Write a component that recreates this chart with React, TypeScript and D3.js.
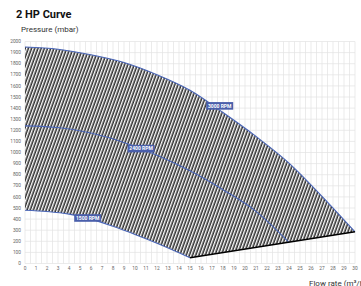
import React from "react";
import * as d3 from "d3";

// readings from the reference chart (flow m3/h, pressure mbar)
const flow3000 = [0, 3, 6, 9, 12, 15, 18, 21, 24, 27, 30];
const press3000 = [1950, 1930, 1880, 1810, 1700, 1560, 1360, 1145, 905, 605, 285];

const flow2400 = [0, 3, 6, 9, 12, 15, 18, 21, 24];
const press2400 = [1240, 1225, 1175, 1090, 975, 835, 665, 470, 190];

const flow1500 = [0, 2, 4, 6, 8, 10, 12, 14, 15];
const press1500 = [480, 468, 445, 400, 335, 262, 183, 97, 52];

const limitFlow = [15, 30];
const limitPress = [52, 285];

const rpmNames = ["3000 RPM", "2400 RPM", "1500 RPM"];
const rpmLabelFlow = [17.7, 10.55, 5.7];
const rpmLabelPress = [1420, 1035, 410];

const xTicks = d3.range(0, 31, 1);
const xGrid = d3.range(0, 30.01, 0.5);
const yTicks = d3.range(0, 2001, 100);

const W = 361;
const H = 286;
const blue = "#4a66b8";

type P = [number, number];
const zip = (a: number[], b: number[]): P[] => a.map((v, i) => [v, b[i]]);

export default function App() {
  const x = d3.scaleLinear().domain([0, 30]).range([25, 355]);
  const y = d3.scaleLinear().domain([0, 2000]).range([263.5, 41.5]);

  const line = d3
    .line<P>()
    .x((d) => x(d[0]))
    .y((d) => y(d[1]))
    .curve(d3.curveMonotoneX);
  const straight = d3
    .line<P>()
    .x((d) => x(d[0]))
    .y((d) => y(d[1]));

  const c3000 = zip(flow3000, press3000);
  const c2400 = zip(flow2400, press2400);
  const c1500 = zip(flow1500, press1500);
  const limit = zip(limitFlow, limitPress);

  // hatched region: top curve, back along the limit line, back along low curve
  const hatch =
    (line(c3000) || "") +
    (straight(limit.slice().reverse()) || "").replace(/^M/, "L") +
    (line(c1500.slice().reverse()) || "").replace(/^M/, "L") +
    "Z";

  return (
    <div style={{ position: "absolute", left: 0, top: 0 }}>
      <svg width={W} height={H} style={{ display: "block", fontFamily: "Roboto, sans-serif" }}>
        <defs>
          <pattern
            id="hatch"
            width={3}
            height={6}
            patternUnits="userSpaceOnUse"
            patternTransform="rotate(20)"
          >
            <rect width={3} height={6} fill="#fff" />
            <line x1={1.2} y1={0} x2={1.2} y2={6} stroke="#222" strokeWidth={1.5} />
          </pattern>
        </defs>
        <rect width={W} height={H} fill="#fff" />

        <text x={16} y={17.5} fontSize={11} fontWeight="bold" fill="#111">
          2 HP Curve
        </text>
        <text x={21} y={32} fontSize={8} fill="#333">
          Pressure (mbar)
        </text>

        <g stroke="#e2e2e2" strokeWidth={0.7}>
          {xGrid.map((t) => (
            <line key={"v" + t} x1={x(t)} x2={x(t)} y1={y(2000)} y2={y(0)} />
          ))}
          {yTicks.map((t) => (
            <line key={"h" + t} x1={x(0)} x2={x(30)} y1={y(t)} y2={y(t)} />
          ))}
        </g>

        <g fontSize={4.8} fill="#666">
          {yTicks.map((t) => (
            <text key={t} x={21} y={y(t) + 1.6} textAnchor="end">
              {t}
            </text>
          ))}
          {xTicks.map((t) => (
            <text key={t} x={x(t)} y={270} textAnchor="middle">
              {t}
            </text>
          ))}
        </g>

        <path d={hatch} fill="url(#hatch)" />

        {[c3000, c2400, c1500].map((c, i) => (
          <path key={i} d={line(c) || ""} fill="none" stroke={blue} strokeWidth={1.1} />
        ))}
        <path d={straight(limit) || ""} fill="none" stroke="#000" strokeWidth={1.5} />

        {rpmNames.map((n, i) => (
          <g key={n} transform={`translate(${x(rpmLabelFlow[i])},${y(rpmLabelPress[i])})`}>
            <rect x={-13.5} y={-3.8} width={27} height={7.6} fill="#4a5fab" />
            <text y={1.8} textAnchor="middle" fontSize={5} fontWeight="bold" fill="#fff">
              {n}
            </text>
          </g>
        ))}

        <text x={309} y={286} fontSize={8} fill="#333">
          Flow rate (m³/h)
        </text>
      </svg>
    </div>
  );
}
